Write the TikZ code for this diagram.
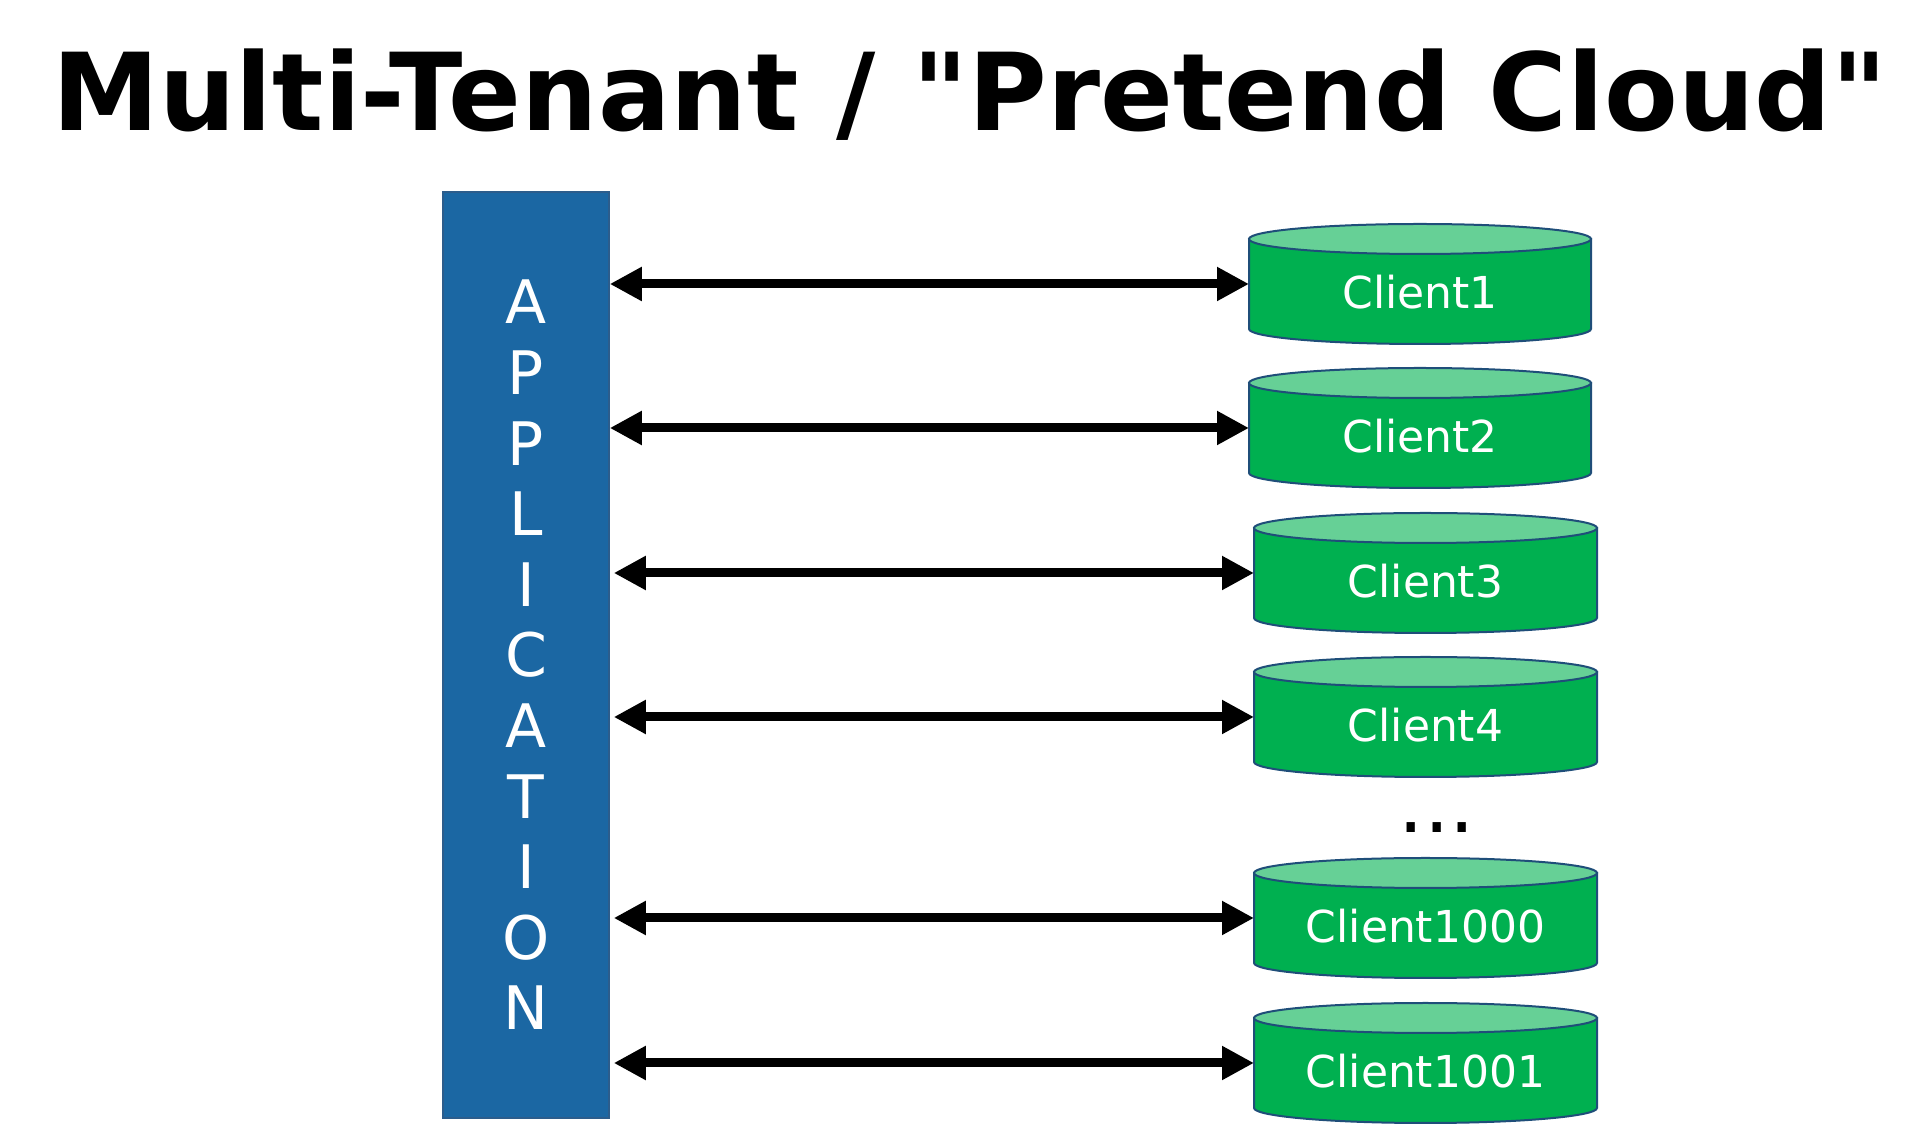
\documentclass[tikz,border=0pt]{standalone}
\usepackage{fontspec}
\setmainfont{DejaVu Sans}[Ligatures=TeXOff]
\usetikzlibrary{arrows.meta}
\definecolor{appblue}{HTML}{1B67A3}
\definecolor{appedge}{HTML}{2C5D8C}
\definecolor{dbgreen}{HTML}{00B050}
\definecolor{dbtopgreen}{HTML}{66D096}
\definecolor{dbedge}{HTML}{1F4E79}
\begin{document}
\begin{tikzpicture}[x=1pt,y=1pt,
    appbox/.style={draw=appedge, line width=1.5pt, fill=appblue, text=white, align=center,
      minimum width=166pt, minimum height=926pt, inner sep=0pt, font=\fontsize{60}{70.6}\selectfont},
    link/.style={line width=9pt, {Triangle[length=32pt,width=32pt]}-{Triangle[length=32pt,width=32pt]}},
    dbbody/.style={draw=dbedge, line width=2pt, fill=dbgreen},
    dbtop/.style={draw=dbedge, line width=2pt, fill=dbtopgreen},
    dblabel/.style={text=white, inner sep=0pt, font=\fontsize{44}{53}\selectfont}]
\useasboundingbox (0,0) rectangle (1920,1143);
% Draw the title
        \node[anchor=base, font=\fontsize{107.5}{128}\selectfont\bfseries] (title) at (970,1012) {Multi-Tenant / "Pretend Cloud"};
% Draw the application
        \node[appbox] (app) at (526,488) {A\\P\\P\\L\\I\\C\\A\\T\\I\\O\\N};
% Draw the clients and the links
        \foreach \name/\txt/\t/\l/\r/\g in {c1/Client1/919/1249/1591/0, c2/Client2/775/1249/1591/0,
            c3/Client3/630/1254/1597/4, c4/Client4/486/1254/1597/4,
            c1000/Client1000/285/1254/1597/4, c1001/Client1001/140/1254/1597/4} {
          \pgfmathsetmacro\cx{(\l+\r)/2}
          \pgfmathsetmacro\rx{(\r-\l)/2}
          \draw[dbbody] (\l,\t-15) -- (\l,\t-105) arc[start angle=180, end angle=360, x radius=\rx, y radius=15]
            -- (\r,\t-15) -- cycle;
          \draw[dbtop] (\cx,\t-15) ellipse [x radius=\rx, y radius=15];
          \node[dblabel, anchor=base] (\name) at (\cx,\t-84.5) {\txt};
          \coordinate (\name w) at (\l,\t-60);
          \path (app.east |- \name w) ++(\g,0) coordinate (\name a);
          \draw[link] (\name a) -- (\name w);
        }
        \node[anchor=base, font=\fontsize{80}{96}\selectfont] (dots) at (1437,310) {...};
      \end{tikzpicture}
\end{document}
